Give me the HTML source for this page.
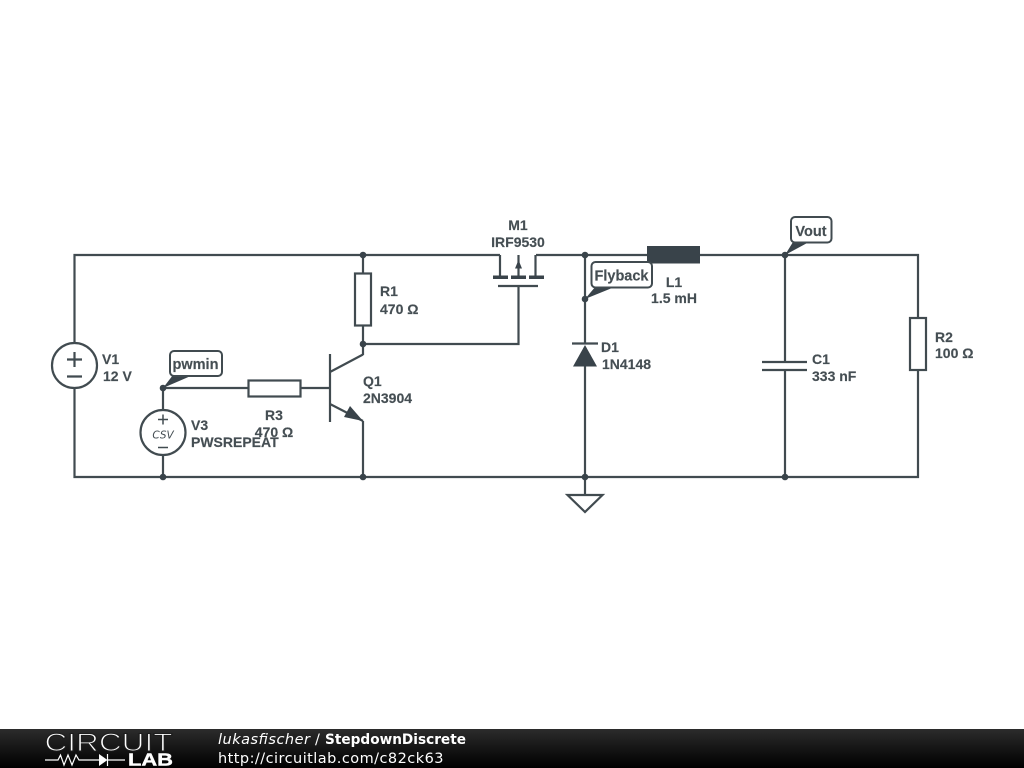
<!DOCTYPE html>
<html>
<head>
<meta charset="utf-8">
<style>
html,body{margin:0;padding:0;background:#fff;width:1024px;height:768px;overflow:hidden}
svg{display:block}
.w{stroke:#414b50;stroke-width:2.200;fill:none}
.f{fill:#39434a;stroke:none}
.l{font-family:"Liberation Sans",Arial,sans-serif;font-size:14px;font-weight:700;fill:#454e53;stroke:#454e53;stroke-width:.15px}
.m{text-anchor:middle}
.tag{fill:#fff;stroke:#414b50;stroke-width:2}
.tt{font-size:14.500px}
.ft{font-family:"DejaVu Sans",sans-serif;font-size:14.500px;fill:#fff}
</style>
</head>
<body>
<svg width="1024" height="768" viewBox="0 0 1024 768" xmlns="http://www.w3.org/2000/svg">
<defs>
<linearGradient id="g" x1="0" y1="0" x2="0" y2="1">
<stop offset="0" stop-color="#2c2c2c"/><stop offset=".5" stop-color="#151515"/><stop offset="1" stop-color="#000"/>
</linearGradient>
</defs>
<rect width="1024" height="768" fill="#fff"/>

<!-- wires -->
<path class="w" d="M500 255H74.500V343M74.500 388V477H918V370M918 318V255H536M363 255V273M363 325V355M363 344H518.500V286M363 421V477M163 388H248M300 388H330M163 388V410M163 455V477M585 255V344M585 366V495M785 255V362M785 370V477"/>

<!-- R1 R2 R3 -->
<rect class="w" x="355" y="273.500" width="16" height="52" fill="#fff"/>
<rect class="w" x="910" y="318" width="16" height="52" fill="#fff"/>
<rect class="w" x="248.500" y="380.500" width="52" height="16" fill="#fff"/>

<!-- L1 -->
<rect class="f" x="647" y="246" width="53" height="17.500"/>

<!-- C1 -->
<path class="w" d="M762 362H807M762 370H807"/>

<!-- D1 -->
<path class="w" d="M572 343.500H598"/>
<path class="f" d="M585 345L573 366.500H597Z"/>

<!-- Ground -->
<path class="w" d="M567.500 495H602.500L585 512Z"/>

<!-- V1 -->
<circle class="w" cx="74.500" cy="365.500" r="22.500" fill="#fff"/>
<path class="w" d="M67 359.500H82M74.500 352V367M67 376.500H82"/>

<!-- V3 -->
<circle class="w" cx="163" cy="432.500" r="22.500" fill="#fff"/>
<path stroke="#414b50" stroke-width="1.500" fill="none" d="M158 419.500H168M163 414.500V424.500M158 447.500H168"/>
<text x="163" y="438.500" text-anchor="middle" font-family="'DejaVu Sans',sans-serif" font-style="italic" font-size="10.500" fill="#454e53">CSV</text>

<!-- Q1 -->
<path class="w" d="M330 354V422M330 372L363 354.500M330 404L363 421"/>
<path class="f" d="M363 421L344 417L350 406Z"/>

<!-- M1 -->
<path class="w" d="M500 255V277M535.500 255V277M518.500 255V277M498 286H538"/>
<path class="f" d="M493 275.500H508V279H493ZM511 275.500H526V279H511ZM529 275.500H544V279H529ZM518.500 260L522 268.500H515Z"/>

<!-- Junctions -->
<g class="f">
<circle cx="363" cy="255" r="3.300"/><circle cx="363" cy="344" r="3.300"/><circle cx="363" cy="477" r="3.300"/>
<circle cx="163" cy="477" r="3.300"/><circle cx="163" cy="388" r="3.300"/>
<circle cx="585" cy="255" r="3.300"/><circle cx="585" cy="299" r="3.300"/><circle cx="585" cy="477" r="3.300"/>
<circle cx="785" cy="255" r="3.300"/><circle cx="785" cy="477" r="3.300"/>
</g>

<!-- Tags -->
<path class="f" d="M163 388L173 375H193Z"/>
<rect class="tag" x="170" y="351" width="52" height="25" rx="4"/>
<text class="l m tt" x="195.500" y="369">pwmin</text>

<path class="f" d="M585 299L596 286H617Z"/>
<rect class="tag" x="591.500" y="262" width="60.500" height="25.500" rx="4"/>
<text class="l m tt" x="621.500" y="280.500">Flyback</text>

<path class="f" d="M785 255L793 242H809Z"/>
<rect class="tag" x="791" y="217" width="40.500" height="25.500" rx="4"/>
<text class="l m tt" x="811" y="236">Vout</text>

<!-- Labels -->
<text class="l m" x="518" y="230">M1</text>
<text class="l m" x="518" y="247">IRF9530</text>
<text class="l" x="380" y="296">R1</text>
<text class="l" x="380" y="314">470 Ω</text>
<text class="l" x="102" y="364">V1</text>
<text class="l" x="103" y="381">12 V</text>
<text class="l" x="363" y="386">Q1</text>
<text class="l" x="363" y="403">2N3904</text>
<text class="l m" x="274" y="420">R3</text>
<text class="l m" x="274" y="437">470 Ω</text>
<text class="l" x="191" y="430">V3</text>
<text class="l" x="191" y="447">PWSREPEAT</text>
<text class="l" x="601" y="352">D1</text>
<text class="l" x="602" y="369">1N4148</text>
<text class="l m" x="674" y="287">L1</text>
<text class="l m" x="674" y="303">1.5 mH</text>
<text class="l" x="812" y="364">C1</text>
<text class="l" x="812" y="381">333 nF</text>
<text class="l" x="935" y="342">R2</text>
<text class="l" x="935" y="358">100 Ω</text>

<!-- Footer -->
<rect x="0" y="729" width="1024" height="39" fill="url(#g)"/>
<text x="44.500" y="751" font-family="'Liberation Sans',sans-serif" font-size="25" fill="#fff" stroke="#1d1d1d" stroke-width="1.100" paint-order="fill stroke" textLength="128" lengthAdjust="spacingAndGlyphs">CIRCUIT</text>
<path stroke="#fff" stroke-width="1.200" fill="none" d="M45 760H58L60.500 755L64 765L68 755L72 765L76 755L79 760H99M108 760H125M107.500 754V766"/>
<path fill="#fff" d="M99 754L107.500 760L99 766Z"/>
<text x="128" y="765.500" font-family="'Liberation Sans',sans-serif" font-size="17.500" font-weight="700" fill="#fff" stroke="#fff" stroke-width=".4" textLength="45" lengthAdjust="spacingAndGlyphs">LAB</text>
<text class="ft" x="218" y="744" font-style="italic" textLength="92" lengthAdjust="spacing">lukasfischer</text>
<text class="ft" x="315" y="744">/</text>
<text class="ft" x="325" y="744" font-weight="700" textLength="141" lengthAdjust="spacingAndGlyphs">StepdownDiscrete</text>
<text class="ft" x="218" y="763" textLength="225.500" lengthAdjust="spacing">http://circuitlab.com/c82ck63</text>
</svg>
</body>
</html>
